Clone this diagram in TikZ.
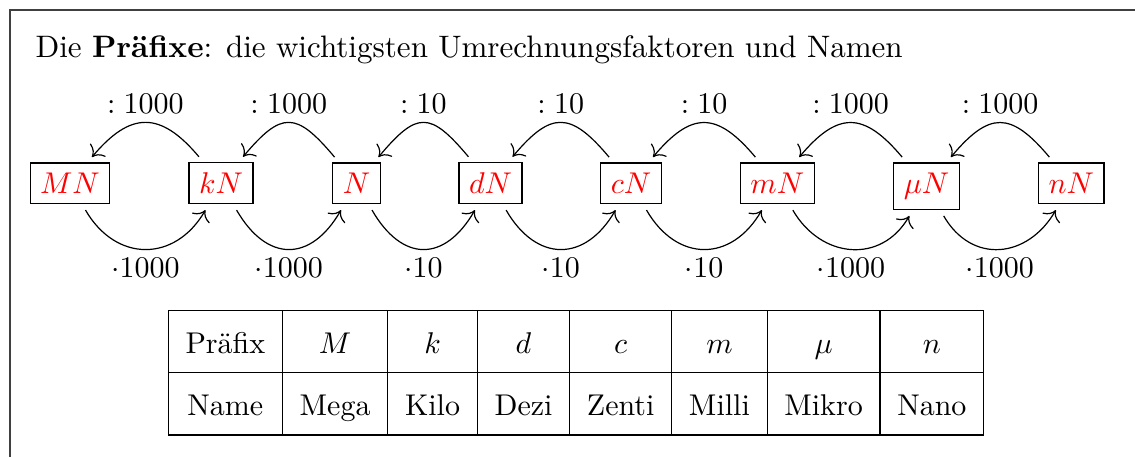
\documentclass[tikz,border=0pt]{standalone}
\usepackage{fontspec}
\usetikzlibrary{arrows.meta}
\begin{document}
\begin{tikzpicture}[x=0.33333pt, y=-0.33333pt,
  box/.style={draw, text=red, anchor=base, inner sep=0.3333em},
  arr/.style={-{To[scale=1.3]}, shorten >=2.3pt, shorten <=2.3pt},
  uparr/.style={arr, distance=22.3pt},
  dnarr/.style={arr, distance=22.5pt},
  lab/.style={inner sep=0.3333em}]
\useasboundingbox (0,0) rectangle (1135,456);
% frame
\draw[black!75] (10,470) -- (10,10) -- (1150,10);
% title
\node[anchor=base west, inner sep=0] (title) at (35,57)
  {\fontsize{10.35pt}{12.4pt}\selectfont Die \textbf{Präfixe}: die wichtigsten Umrechnungsfaktoren und Namen};
% unit boxes
\node[box] (MN) at (70,193.5)   {$MN$};
\node[box] (kN) at (221,193.5)  {$kN$};
\node[box] (N)  at (356.5,193.5){$N$};
\node[box] (dN) at (490.5,193.5){$dN$};
\node[box] (cN) at (631,193.5)  {$cN$};
\node[box] (mN) at (777.3,193.5){$mN$};
\node[box] (uN) at (926.5,193.5){$\mu N$};
\node[box] (nN) at (1071.3,193.5){$nN$};
% division arcs (top)
\draw[uparr] (kN) to[out=130,in=50] node[lab,above]{$:1000$} (MN);
\draw[uparr] (N)  to[out=130,in=50] node[lab,above]{$:1000$} (kN);
\draw[uparr] (dN) to[out=130,in=50] node[lab,above]{$:10$} (N);
\draw[uparr] (cN) to[out=130,in=50] node[lab,above]{$:10$} (dN);
\draw[uparr] (mN) to[out=130,in=50] node[lab,above]{$:10$} (cN);
\draw[uparr] (uN) to[out=130,in=50] node[lab,above]{$:1000$} (mN);
\draw[uparr] (nN) to[out=130,in=50] node[lab,above]{$:1000$} (uN);
% multiplication arcs (bottom)
\draw[dnarr] (MN) to[out=-60,in=-120] node[lab,below]{$\cdot1000$} (kN);
\draw[dnarr] (kN) to[out=-60,in=-120] node[lab,below]{$\cdot1000$} (N);
\draw[dnarr] (N)  to[out=-60,in=-120] node[lab,below]{$\cdot10$} (dN);
\draw[dnarr] (dN) to[out=-60,in=-120] node[lab,below]{$\cdot10$} (cN);
\draw[dnarr] (cN) to[out=-60,in=-120] node[lab,below]{$\cdot10$} (mN);
\draw[dnarr, distance=21pt] (mN) to[out=-60,in=-120] node[lab,below]{$\cdot1000$} (uN);
\draw[dnarr, distance=21pt] (uN) to[out=-60,in=-120] node[lab,below]{$\cdot1000$} (nN);
% table
\node[inner sep=0] (tab) at (576,372.5) {\def\arraystretch{1.7}\setlength{\tabcolsep}{5.75pt}%
  \begin{tabular}{|c|c|c|c|c|c|c|c|}\hline
  Präfix & $M$ & $k$ & $d$ & $c$ & $m$ & $\mu$ & $n$\\\hline
  Name & Mega & Kilo & Dezi & Zenti & Milli & Mikro & Nano\\\hline
  \end{tabular}};
\end{tikzpicture}
\end{document}
